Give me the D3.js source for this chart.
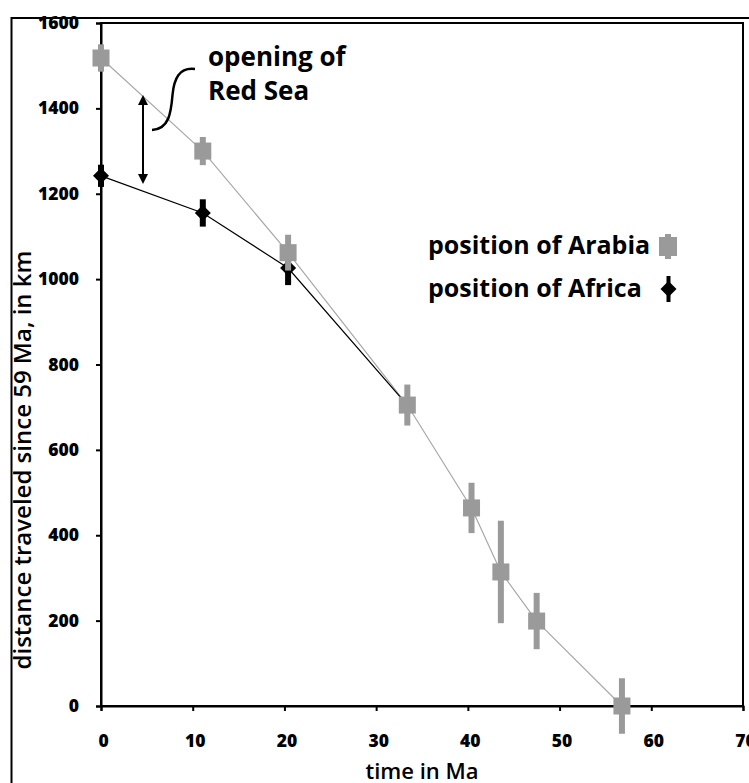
<!DOCTYPE html>
<html><head><meta charset="utf-8">
<script src="https://cdn.jsdelivr.net/npm/d3@7"></script>
<style>
html,body{margin:0;padding:0;background:#fff;}
svg{display:block;}
text{font-family:"Open Sans",sans-serif;font-weight:700;fill:#000;}
</style></head>
<body>
<svg id="chart" width="749" height="783"></svg>
<script>
// ---- data ----
const arabiaTime  = [0, 11.1, 20.4, 33.4, 40.4, 43.6, 47.5, 56.8];
const arabiaDist  = [1518, 1300, 1062, 705, 464, 314, 199, 0];
const arabiaErr   = [32, 33, 42, 48, 59, 120, 66, 65];
const africaTime  = [0, 11.1, 20.4, 33.4];
const africaDist  = [1242, 1155, 1026, 705];
const africaErr   = [26, 32, 40, 0];
const xTicks = [0, 10, 20, 30, 40, 50, 60, 70];
const yTicks = [0, 200, 400, 600, 800, 1000, 1200, 1400, 1600];
const xTitle = "time in Ma";
const yTitle = "distance traveled since 59 Ma, in km";
const legendLabels = ["position of Arabia", "position of Africa"];
const annotation = ["opening of", "Red Sea"];

const arabia = arabiaTime.map((t,i)=>({t, d:arabiaDist[i], e:arabiaErr[i]}));
const africa = africaTime.map((t,i)=>({t, d:africaDist[i], e:africaErr[i]}));

const svg = d3.select("#chart");
const L = 101, R = 743, T = 23, B = 706;
const x = d3.scaleLinear().domain([0,70]).range([L,R]);
const y = d3.scaleLinear().domain([0,1600]).range([B,T]);

const GRAY = "#9a9a9a";

// outer frame
svg.append("rect").attr("x",11.5).attr("y",18).attr("width",760).attr("height",800)
  .attr("fill","none").attr("stroke","#000").attr("stroke-width",2);

// plot frame
svg.append("rect").attr("x",L).attr("y",T).attr("width",R-L).attr("height",B-T)
  .attr("fill","none").attr("stroke","#000").attr("stroke-width",2);

// axes
const xAxis = svg.append("g").attr("transform",`translate(0,${B})`)
  .call(d3.axisBottom(x).tickValues(xTicks).tickSize(5).tickPadding(24).tickFormat(d3.format("d")));
const yAxis = svg.append("g").attr("transform",`translate(${L},0)`)
  .call(d3.axisLeft(y).tickValues(yTicks).tickSize(5).tickPadding(17).tickFormat(d3.format("d")));
[xAxis,yAxis].forEach(g=>{
  g.select(".domain").attr("stroke","#000").attr("stroke-width",2);
  g.selectAll(".tick line").attr("stroke","#000").attr("stroke-width",2);
  g.selectAll(".tick text").style("font-size","17.5px").style("font-family","'Open Sans',sans-serif").style("font-weight","800").attr("fill","#000");
});
xAxis.selectAll(".tick text").attr("dx","2");

// titles
svg.append("text").attr("x",(L+R)/2).attr("y",779).attr("text-anchor","middle")
  .style("font-size","22px").style("font-weight","600").text(xTitle);
svg.append("text").attr("transform","translate(31,460) rotate(-90)").attr("text-anchor","middle")
  .style("font-size","24px").style("font-weight","600").text(yTitle);

// lines
const line = d3.line().x(d=>x(d.t)).y(d=>y(d.d));
svg.append("path").datum(arabia).attr("d",line).attr("fill","none").attr("stroke","#a8a8a8").attr("stroke-width",1.2);
svg.append("path").datum(africa).attr("d",line).attr("fill","none").attr("stroke","#000").attr("stroke-width",1.2);

// Africa markers
const diamond = (cx,cy,r)=>`M${cx},${cy-r}L${cx+r},${cy}L${cx},${cy+r}L${cx-r},${cy}Z`;
svg.append("g").selectAll("rect").data(africa.filter(d=>d.e>0)).join("rect")
  .attr("x",d=>x(d.t)-3).attr("width",6)
  .attr("y",d=>y(d.d+d.e)).attr("height",d=>y(d.d-d.e)-y(d.d+d.e)).attr("fill","#000");
svg.append("g").selectAll("path").data(africa).join("path")
  .attr("d",d=>diamond(x(d.t),y(d.d),8)).attr("fill","#000");

// Arabia markers
svg.append("g").selectAll("rect").data(arabia).join("rect")
  .attr("x",d=>x(d.t)-3).attr("width",6)
  .attr("y",d=>y(d.d+d.e)).attr("height",d=>y(d.d-d.e)-y(d.d+d.e)).attr("fill",GRAY);
svg.append("g").selectAll("rect").data(arabia).join("rect")
  .attr("x",d=>x(d.t)-8.5).attr("width",17)
  .attr("y",d=>y(d.d)-8.5).attr("height",17).attr("fill",GRAY);

// legend
const lg = svg.append("g");
lg.append("text").attr("x",428).attr("y",254).style("font-size","25px").text(legendLabels[0]);
lg.append("text").attr("x",428).attr("y",297).style("font-size","25px").text(legendLabels[1]);
lg.append("rect").attr("x",665).attr("y",234).attr("width",6).attr("height",25).attr("fill",GRAY);
lg.append("rect").attr("x",659).attr("y",237).attr("width",18).attr("height",19).attr("fill",GRAY);
lg.append("rect").attr("x",666.5).attr("y",276).attr("width",4).attr("height",26).attr("fill","#000");
lg.append("path").attr("d",diamond(668.5,289,8)).attr("fill","#000");

// annotation
svg.append("text").attr("x",208).attr("y",66).style("font-size","26px").text(annotation[0]);
svg.append("text").attr("x",208).attr("y",100).style("font-size","26px").text(annotation[1]);
// double arrow
const ax = 143, ay1 = 95, ay2 = 184;
svg.append("line").attr("x1",ax).attr("x2",ax).attr("y1",ay1+6).attr("y2",ay2-6).attr("stroke","#000").attr("stroke-width",2);
svg.append("path").attr("d",`M${ax},${ay1}L${ax+5},${ay1+10}L${ax-5},${ay1+10}Z`).attr("fill","#000");
svg.append("path").attr("d",`M${ax},${ay2}L${ax+5},${ay2-10}L${ax-5},${ay2-10}Z`).attr("fill","#000");
// curly connector
svg.append("path").attr("d","M195,69 C179,67 174,79 172.5,95 C171,113 169,129 152,130")
  .attr("fill","none").attr("stroke","#000").attr("stroke-width",2.5);
</script>
</body></html>
